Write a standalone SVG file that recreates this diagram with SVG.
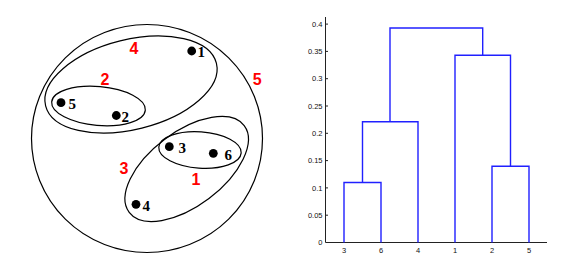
<svg xmlns="http://www.w3.org/2000/svg" width="577" height="255" viewBox="0 0 577 255">
<style>
.cl{fill:none;stroke:#000;stroke-width:1.2}
.dot{fill:#000}
.pt{font-family:"Liberation Serif",serif;font-weight:bold;font-size:15px;fill:#000}
.rl{font-family:"Liberation Sans",Arial,sans-serif;font-weight:bold;font-size:16px;fill:#ff0000;text-anchor:middle}
.br{fill:none;stroke:#2020ff;stroke-width:1.4}
.ax{fill:none;stroke:#222;stroke-width:1}
.tk{font-family:"Liberation Sans",Arial,sans-serif;font-size:7.5px;fill:#111}
.ty{text-anchor:end}
.tx{text-anchor:middle}
</style>
<rect width="577" height="255" fill="#fff"/>
<g id="clusters">
<ellipse id="c5" class="cl" cx="147" cy="138.5" rx="115.5" ry="114"/>
<ellipse id="c4" class="cl" cx="131" cy="84.5" rx="88" ry="45" transform="rotate(-14 131 84.5)"/>
<ellipse id="c2" class="cl" cx="98.5" cy="106" rx="47" ry="19.5" transform="rotate(5 98.5 106)"/>
<ellipse id="c3" class="cl" cx="186.7" cy="169" rx="72" ry="37" transform="rotate(-37 186.7 169)"/>
<ellipse id="c1" class="cl" cx="200" cy="150" rx="41.3" ry="18.2" transform="rotate(4 200 150)"/>
</g>
<g id="points">
<g id="p1"><circle class="dot" cx="191.7" cy="51" r="4.4"/><text class="pt" x="197.5" y="57">1</text></g>
<g id="p5"><circle class="dot" cx="61" cy="102.7" r="4.4"/><text class="pt" x="68.5" y="109">5</text></g>
<g id="p2"><circle class="dot" cx="116.3" cy="115.5" r="4.4"/><text class="pt" x="121.5" y="121.5">2</text></g>
<g id="p3"><circle class="dot" cx="169.3" cy="146.7" r="4.4"/><text class="pt" x="178.5" y="153.3">3</text></g>
<g id="p6"><circle class="dot" cx="213.3" cy="153.3" r="4.4"/><text class="pt" x="224.5" y="160">6</text></g>
<g id="p4"><circle class="dot" cx="136" cy="204.3" r="4.4"/><text class="pt" x="142.5" y="211">4</text></g>
</g>
<g id="cluster-labels">
<text class="rl" x="134" y="53.5">4</text>
<text class="rl" x="105" y="85">2</text>
<text class="rl" x="257.3" y="85">5</text>
<text class="rl" x="124" y="174">3</text>
<text class="rl" x="196" y="185">1</text>
</g>
<g id="axes">
<path class="ax" d="M325.5 17V242.5H547"/>
<path class="ax" d="M325.5 24.1h2.5M325.5 51.4h2.5M325.5 78.7h2.5M325.5 106h2.5M325.5 133.3h2.5M325.5 160.6h2.5M325.5 187.9h2.5M325.5 215.2h2.5"/>
<g class="tk ty">
<text x="322.5" y="26.8">0.4</text>
<text x="322.5" y="54.1">0.35</text>
<text x="322.5" y="81.4">0.3</text>
<text x="322.5" y="108.7">0.25</text>
<text x="322.5" y="136">0.2</text>
<text x="322.5" y="163.3">0.15</text>
<text x="322.5" y="190.6">0.1</text>
<text x="322.5" y="217.9">0.05</text>
<text x="322.5" y="245.2">0</text>
</g>
<g class="tk tx">
<text x="344" y="253">3</text>
<text x="381" y="253">6</text>
<text x="418" y="253">4</text>
<text x="455" y="253">1</text>
<text x="492" y="253">2</text>
<text x="529" y="253">5</text>
</g>
</g>
<g id="dendrogram">
<path class="br" d="M344 242.5V182.5H381V242.5"/>
<path class="br" d="M362.5 182.5V121.7H418V242.5"/>
<path class="br" d="M492 242.5V166.3H529V242.5"/>
<path class="br" d="M455 242.5V55.3H510.5V166.3"/>
<path class="br" d="M390 121.7V28H482.7V55.3"/>
</g>
</svg>
